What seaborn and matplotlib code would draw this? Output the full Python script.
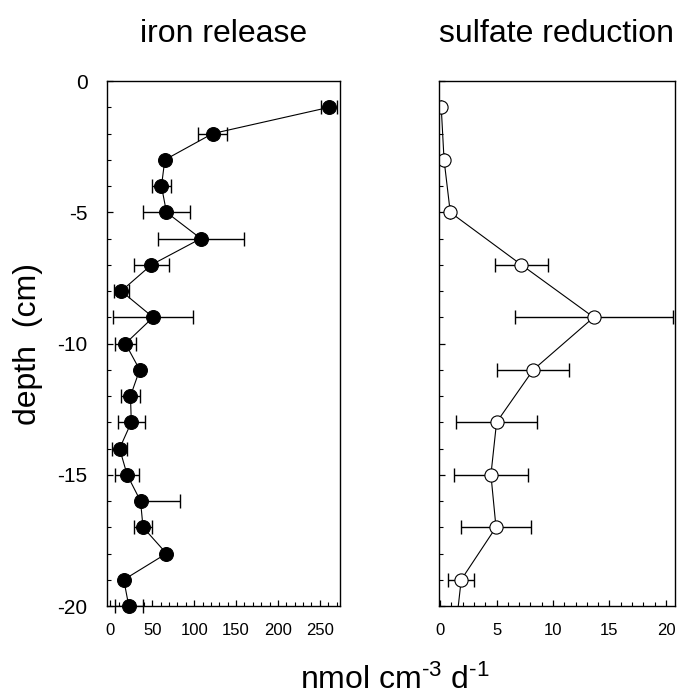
import numpy as np
import pandas as pd
import seaborn as sns
import matplotlib.pyplot as plt
from matplotlib.ticker import MultipleLocator

# --- data ---
iron_depth = [-1, -2, -3, -4, -5, -6, -7, -8, -9, -10,
              -11, -12, -13, -14, -15, -16, -17, -18, -19, -20]
iron_rate = [261, 122, 65, 61, 67, 108, 49, 13, 51, 18,
             35, 24, 25, 11, 20, 36, 39, 67, 16, 22]
iron_err_lo = [9, 17, 0, 11, 28, 51, 21, 9, 48, 13,
               0, 11, 16, 9, 14, 0, 11, 0, 0, 17]
iron_err_hi = [9, 17, 0, 11, 28, 51, 21, 9, 48, 13,
               0, 11, 16, 9, 14, 47, 11, 0, 0, 17]

sulf_depth = [-1, -3, -5, -7, -9, -11, -13, -15, -17, -19, -21]
sulf_rate = [0.1, 0.35, 0.9, 7.2, 13.6, 8.25, 5.0, 4.5, 4.95, 1.87, 1.35]
sulf_err = [0, 0, 0, 2.35, 7.0, 3.2, 3.6, 3.3, 3.1, 1.13, 0]

panel_titles = ["iron release", "sulfate reduction"]

# --- style ---
sns.set_theme(style="ticks")
plt.rcParams["font.family"] = ["Liberation Sans", "DejaVu Sans"]
plt.rcParams["mathtext.fontset"] = "custom"
plt.rcParams["mathtext.rm"] = "Liberation Sans"
plt.rcParams["mathtext.it"] = "Liberation Sans:italic"
plt.rcParams["axes.unicode_minus"] = False
plt.rcParams["text.color"] = "black"
plt.rcParams["axes.labelcolor"] = "black"
plt.rcParams["xtick.color"] = "black"
plt.rcParams["ytick.color"] = "black"

fig = plt.figure(figsize=(6.79, 6.98), dpi=100)
ax1 = fig.add_axes([0.1576, 0.1318, 0.343, 0.752])
ax2 = fig.add_axes([0.6465, 0.1318, 0.3476, 0.752])

df_iron = pd.DataFrame({"rate": iron_rate, "depth": iron_depth})
df_sulf = pd.DataFrame({"rate": sulf_rate, "depth": sulf_depth})

# iron release: filled circles
ax1.errorbar(iron_rate, iron_depth, xerr=[iron_err_lo, iron_err_hi], fmt="none",
             ecolor="black", elinewidth=1.0, capsize=5, capthick=1.0, zorder=1)
sns.lineplot(data=df_iron, x="rate", y="depth", sort=False, estimator=None, ax=ax1,
             color="black", lw=0.8, marker="o", markersize=10,
             markerfacecolor="black", markeredgecolor="black", zorder=2)
for ln in ax1.lines:
    ln.set_clip_on(False)

# sulfate reduction: open circles
ax2.errorbar(sulf_rate, sulf_depth, xerr=sulf_err, fmt="none",
             ecolor="black", elinewidth=1.0, capsize=5, capthick=1.0, zorder=1)
sns.lineplot(data=df_sulf, x="rate", y="depth", sort=False, estimator=None, ax=ax2,
             color="black", lw=0.8, marker="o", markersize=9.5,
             markerfacecolor="white", markeredgecolor="black", markeredgewidth=0.8,
             zorder=2)

# axes ranges and ticks
ax1.set_xlim(-4, 274)
ax2.set_xlim(-0.1, 20.8)
for ax in (ax1, ax2):
    ax.set_ylim(-20, 0)
    ax.yaxis.set_major_locator(MultipleLocator(5))
    ax.yaxis.set_minor_locator(MultipleLocator(1))
    ax.tick_params(which="both", direction="in", top=False, right=False, color="black")
    ax.tick_params(which="major", length=4, width=0.9)
    ax.tick_params(which="minor", length=3, width=0.8)
    ax.tick_params(axis="x", labelsize=12, pad=12)
    ax.set_xlabel("")
    ax.set_ylabel("")
    for sp in ax.spines.values():
        sp.set_color("black")
        sp.set_linewidth(1.0)

ax1.xaxis.set_major_locator(MultipleLocator(50))
ax1.xaxis.set_minor_locator(MultipleLocator(10))
ax2.xaxis.set_major_locator(MultipleLocator(5))
ax2.xaxis.set_minor_locator(MultipleLocator(1))

ax1.tick_params(axis="y", labelsize=15, pad=14)
ax2.tick_params(axis="y", labelleft=False)

ax1.set_ylabel("depth  (cm)", fontsize=23, labelpad=10)
ax1.set_title(panel_titles[0], fontsize=23, pad=28)
ax2.set_title(panel_titles[1], fontsize=23, pad=28)

fig.text(0.582, 0.026, r"nmol cm$^{\text{-3}}$ d$^{\text{-1}}$",
         ha="center", va="center", fontsize=23)

fig.savefig("out.png", dpi=100, facecolor="white")
